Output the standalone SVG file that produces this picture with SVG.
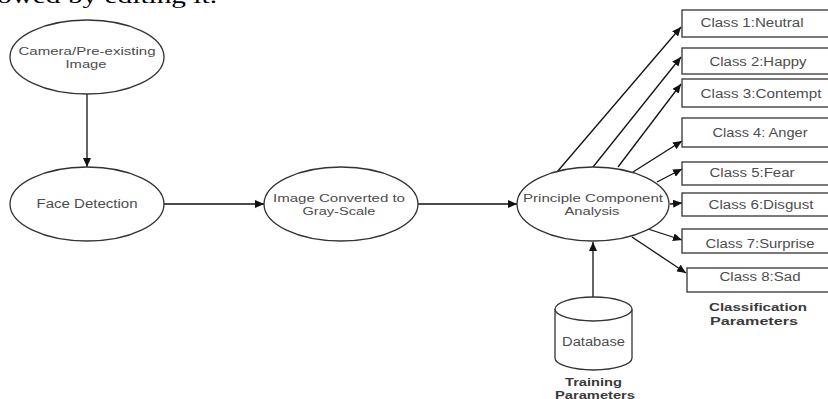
<svg xmlns="http://www.w3.org/2000/svg" width="828" height="399" viewBox="0 0 828 399">
<style>
.bg{fill:#fff}
.node{fill:#fff;stroke:#333;stroke-width:1.3}
.t{font-family:"Liberation Sans",Arial,sans-serif;font-size:12px;fill:#4d4d4d;text-anchor:middle}
.m{font-size:11px}
.b{font-family:"Liberation Sans",Arial,sans-serif;font-size:11px;font-weight:bold;fill:#3a3a3a;text-anchor:middle}
.c{stroke:#111;stroke-width:1.3;fill:none;marker-end:url(#ah)}
.top{font-family:"Liberation Serif","Times New Roman",serif;font-size:22px;fill:#000}
</style>
<defs>
<marker id="ah" markerUnits="userSpaceOnUse" markerWidth="9" markerHeight="8" refX="9" refY="4" orient="auto">
<path d="M0,0 L9,4 L0,8 z" fill="#111"/>
</marker>
</defs>
<rect class="bg" x="0" y="0" width="828" height="399"/>
<text class="top" x="-3" y="3" textLength="220" lengthAdjust="spacingAndGlyphs">owed by editing it.</text>

<g id="connectors">
<line class="c" x1="87" y1="94" x2="87" y2="167"/>
<line class="c" x1="164" y1="204" x2="264" y2="204"/>
<line class="c" x1="418" y1="204" x2="517" y2="204"/>
<line class="c" x1="593" y1="297" x2="593" y2="242"/>
<line class="c" x1="557" y1="172" x2="681" y2="27"/>
<line class="c" x1="593" y1="167" x2="681" y2="57"/>
<line class="c" x1="618" y1="167" x2="681" y2="84"/>
<line class="c" x1="633" y1="172" x2="682" y2="141"/>
<line class="c" x1="657" y1="182" x2="682" y2="169"/>
<line class="c" x1="670" y1="204" x2="682" y2="203"/>
<line class="c" x1="648" y1="229" x2="682" y2="240"/>
<line class="c" x1="632" y1="237" x2="686" y2="273"/>
</g>

<g id="camera">
<ellipse class="node" cx="87" cy="57" rx="77" ry="37"/>
<text class="t m" x="87" y="55" textLength="137" lengthAdjust="spacingAndGlyphs">Camera/Pre-existing</text>
<text class="t m" x="86" y="68" textLength="41" lengthAdjust="spacingAndGlyphs">Image</text>
</g>
<g id="face">
<ellipse class="node" cx="87" cy="204" rx="77" ry="37"/>
<text class="t" x="87" y="208" textLength="101" lengthAdjust="spacingAndGlyphs">Face Detection</text>
</g>
<g id="gray">
<ellipse class="node" cx="341" cy="204" rx="77" ry="37"/>
<text class="t m" x="339" y="202" textLength="132" lengthAdjust="spacingAndGlyphs">Image Converted to</text>
<text class="t m" x="339" y="215" textLength="73" lengthAdjust="spacingAndGlyphs">Gray-Scale</text>
</g>
<g id="pca">
<ellipse class="node" cx="593" cy="204" rx="76" ry="37"/>
<text class="t m" x="593" y="202" textLength="140" lengthAdjust="spacingAndGlyphs">Principle Component</text>
<text class="t m" x="592" y="215" textLength="55" lengthAdjust="spacingAndGlyphs">Analysis</text>
</g>
<g id="database">
<path class="node" d="M555,309 L555,358 A38.5,12 0 0 0 632,358 L632,309"/>
<ellipse class="node" cx="593.5" cy="309" rx="38.5" ry="12"/>
<text class="t" x="593.5" y="346" textLength="63" lengthAdjust="spacingAndGlyphs">Database</text>
</g>
<g id="training-label">
<text class="b" x="593.5" y="386" textLength="57" lengthAdjust="spacingAndGlyphs">Training</text>
<text class="b" x="595" y="399" textLength="80" lengthAdjust="spacingAndGlyphs">Parameters</text>
</g>
<g id="class1"><rect class="node" x="682" y="10" width="150" height="27"/><text class="t" x="752" y="27" textLength="103" lengthAdjust="spacingAndGlyphs">Class 1:Neutral</text></g>
<g id="class2"><rect class="node" x="682" y="48" width="150" height="26"/><text class="t" x="758" y="66" textLength="97" lengthAdjust="spacingAndGlyphs">Class 2:Happy</text></g>
<g id="class3"><rect class="node" x="682" y="79" width="150" height="28"/><text class="t" x="761" y="98" textLength="121" lengthAdjust="spacingAndGlyphs">Class 3:Contempt</text></g>
<g id="class4"><rect class="node" x="682" y="118" width="150" height="29"/><text class="t" x="760" y="137" textLength="95" lengthAdjust="spacingAndGlyphs">Class 4: Anger</text></g>
<g id="class5"><rect class="node" x="682" y="162" width="150" height="23"/><text class="t" x="752" y="177" textLength="85" lengthAdjust="spacingAndGlyphs">Class 5:Fear</text></g>
<g id="class6"><rect class="node" x="682" y="193" width="150" height="23"/><text class="t" x="761" y="209" textLength="105" lengthAdjust="spacingAndGlyphs">Class 6:Disgust</text></g>
<g id="class7"><rect class="node" x="682" y="229" width="150" height="24"/><text class="t" x="760" y="248" textLength="109" lengthAdjust="spacingAndGlyphs">Class 7:Surprise</text></g>
<g id="class8"><rect class="node" x="687" y="268" width="150" height="24"/><text class="t" x="760" y="281" textLength="81" lengthAdjust="spacingAndGlyphs">Class 8:Sad</text></g>
<g id="classification-label">
<text class="b" x="758" y="311" textLength="98" lengthAdjust="spacingAndGlyphs">Classification</text>
<text class="b" x="754" y="325" textLength="88" lengthAdjust="spacingAndGlyphs">Parameters</text>
</g>
</svg>
